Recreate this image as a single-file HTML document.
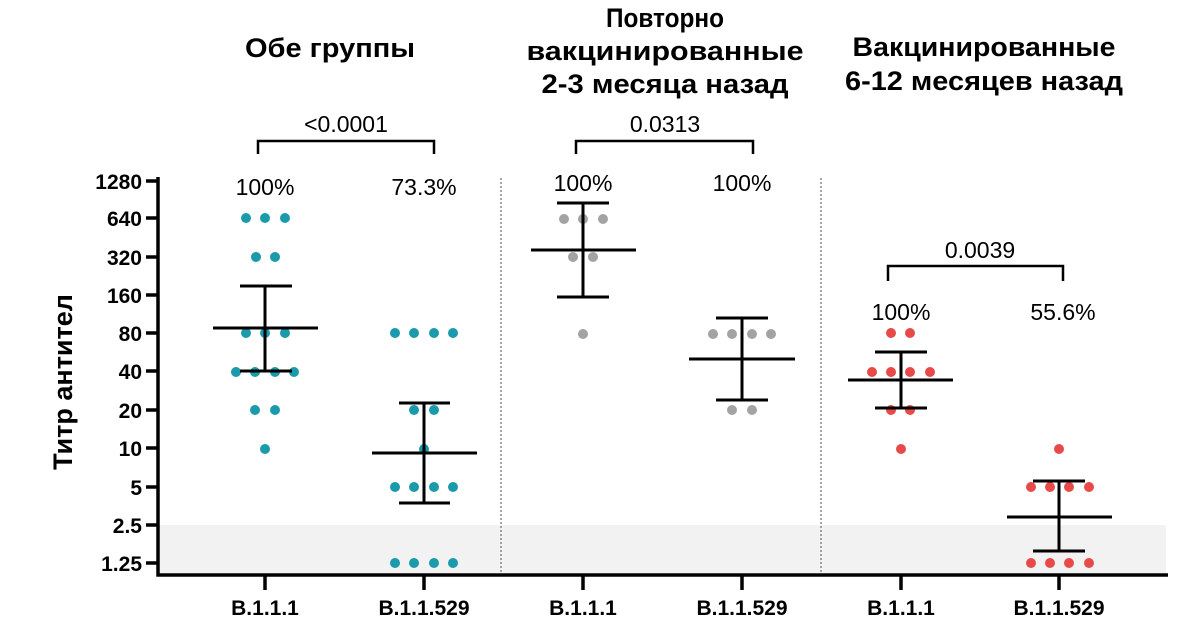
<!DOCTYPE html>
<html><head><meta charset="utf-8"><style>
html,body{margin:0;padding:0;background:#fff;}
svg{display:block;font-family:"Liberation Sans",Arial,sans-serif;}
.t{font-weight:bold;font-size:27px;text-anchor:middle;}
.p{font-size:23px;text-anchor:middle;}
.yl{font-weight:bold;font-size:21px;text-anchor:end;}
.xl{font-weight:bold;font-size:21px;text-anchor:middle;}
</style></head><body>
<svg width="1200" height="628" viewBox="0 0 1200 628">
<rect x="159" y="525" width="1007" height="48" fill="#f2f2f2"/>
<line x1="501" y1="178" x2="501" y2="573" stroke="#888" stroke-width="1.5" stroke-dasharray="2,2"/>
<line x1="821" y1="178" x2="821" y2="573" stroke="#888" stroke-width="1.5" stroke-dasharray="2,2"/>
<g stroke="#000" stroke-width="3.5" fill="none">
<polyline points="158,177 158,575 1168,575"/>
<line x1="146" y1="181" x2="158" y2="181"/><line x1="146" y1="218" x2="158" y2="218"/>
<line x1="146" y1="257" x2="158" y2="257"/><line x1="146" y1="295" x2="158" y2="295"/>
<line x1="146" y1="333" x2="158" y2="333"/><line x1="146" y1="371" x2="158" y2="371"/>
<line x1="146" y1="410" x2="158" y2="410"/><line x1="146" y1="448" x2="158" y2="448"/>
<line x1="146" y1="487" x2="158" y2="487"/><line x1="146" y1="525" x2="158" y2="525"/>
<line x1="146" y1="563" x2="158" y2="563"/>
<line x1="265" y1="575" x2="265" y2="590"/><line x1="424" y1="575" x2="424" y2="590"/>
<line x1="583" y1="575" x2="583" y2="590"/><line x1="742" y1="575" x2="742" y2="590"/>
<line x1="901" y1="575" x2="901" y2="590"/><line x1="1059" y1="575" x2="1059" y2="590"/>
</g>
<g class="yl">
<text x="142" y="189">1280</text><text x="142" y="226">640</text><text x="142" y="265">320</text>
<text x="142" y="303">160</text><text x="142" y="341">80</text><text x="142" y="379">40</text>
<text x="142" y="418">20</text><text x="142" y="456">10</text><text x="142" y="495">5</text>
<text x="142" y="533">2.5</text><text x="142" y="571">1.25</text>
</g>
<text transform="translate(72,382) rotate(-90)" style="font-weight:bold;font-size:27px;text-anchor:middle">Титр антител</text>
<g class="xl">
<text x="265" y="615">B.1.1.1</text><text x="424" y="615">B.1.1.529</text>
<text x="583" y="615">B.1.1.1</text><text x="742" y="615">B.1.1.529</text>
<text x="901" y="615">B.1.1.1</text><text x="1059" y="615">B.1.1.529</text>
</g>
<g class="t">
<text x="330" y="57" textLength="170" lengthAdjust="spacingAndGlyphs">Обе группы</text>
<text x="665" y="27" textLength="118" lengthAdjust="spacingAndGlyphs">Повторно</text>
<text x="665" y="60" textLength="277" lengthAdjust="spacingAndGlyphs">вакцинированные</text>
<text x="665" y="93" textLength="247" lengthAdjust="spacingAndGlyphs">2-3 месяца назад</text>
<text x="984" y="56" textLength="263" lengthAdjust="spacingAndGlyphs">Вакцинированные</text>
<text x="984" y="90" textLength="278" lengthAdjust="spacingAndGlyphs">6-12 месяцев назад</text>
</g>
<g class="p">
<text x="346" y="132">&lt;0.0001</text><text x="665" y="132">0.0313</text><text x="980" y="258">0.0039</text>
<text x="265" y="195">100%</text><text x="424" y="195">73.3%</text>
<text x="583" y="191">100%</text><text x="742" y="191">100%</text>
<text x="901" y="320">100%</text><text x="1063" y="320">55.6%</text>
</g>
<g stroke="#000" stroke-width="2.5" fill="none">
<polyline points="258,154 258,141 434,141 434,154"/>
<polyline points="576,154 576,141 753,141 753,154"/>
<polyline points="888,281 888,266 1063,266 1063,281"/>
</g>
<g fill="#1a9aab">
<circle cx="246" cy="218" r="5"/><circle cx="265" cy="218" r="5"/><circle cx="285" cy="218" r="5"/>
<circle cx="256" cy="257" r="5"/><circle cx="275" cy="257" r="5"/>
<circle cx="246" cy="333" r="5"/><circle cx="265" cy="333" r="5"/><circle cx="285" cy="333" r="5"/>
<circle cx="236" cy="372" r="5"/><circle cx="255" cy="372" r="5"/><circle cx="275" cy="372" r="5"/><circle cx="294" cy="372" r="5"/>
<circle cx="255" cy="410" r="5"/><circle cx="275" cy="410" r="5"/><circle cx="265" cy="449" r="5"/>
<circle cx="395" cy="333" r="5"/><circle cx="414" cy="333" r="5"/><circle cx="434" cy="333" r="5"/><circle cx="453" cy="333" r="5"/>
<circle cx="414" cy="410" r="5"/><circle cx="434" cy="410" r="5"/><circle cx="424" cy="449" r="5"/>
<circle cx="395" cy="487" r="5"/><circle cx="414" cy="487" r="5"/><circle cx="434" cy="487" r="5"/><circle cx="453" cy="487" r="5"/>
<circle cx="395" cy="563" r="5"/><circle cx="414" cy="563" r="5"/><circle cx="434" cy="563" r="5"/><circle cx="453" cy="563" r="5"/>
</g>
<g fill="#a3a3a3">
<circle cx="564" cy="219" r="5"/><circle cx="583" cy="219" r="5"/><circle cx="603" cy="219" r="5"/>
<circle cx="573" cy="257" r="5"/><circle cx="593" cy="257" r="5"/><circle cx="583" cy="334" r="5"/>
<circle cx="713" cy="334" r="5"/><circle cx="732" cy="334" r="5"/><circle cx="752" cy="334" r="5"/><circle cx="771" cy="334" r="5"/>
<circle cx="732" cy="410" r="5"/><circle cx="752" cy="410" r="5"/>
</g>
<g fill="#e84a4a">
<circle cx="891" cy="333" r="5"/><circle cx="910" cy="333" r="5"/>
<circle cx="872" cy="372" r="5"/><circle cx="891" cy="372" r="5"/><circle cx="910" cy="372" r="5"/><circle cx="930" cy="372" r="5"/>
<circle cx="891" cy="410" r="5"/><circle cx="910" cy="410" r="5"/><circle cx="901" cy="449" r="5"/>
<circle cx="1059" cy="449" r="5"/>
<circle cx="1031" cy="487" r="5"/><circle cx="1050" cy="487" r="5"/><circle cx="1069" cy="487" r="5"/><circle cx="1089" cy="487" r="5"/>
<circle cx="1031" cy="563" r="5"/><circle cx="1050" cy="563" r="5"/><circle cx="1069" cy="563" r="5"/><circle cx="1089" cy="563" r="5"/>
</g>
<g stroke="#000" stroke-width="3" fill="none">
<line x1="265" y1="286" x2="265" y2="371"/><line x1="240" y1="286" x2="292" y2="286"/><line x1="240" y1="371" x2="292" y2="371"/><line x1="213" y1="328" x2="318" y2="328"/>
<line x1="424" y1="403" x2="424" y2="503"/><line x1="399" y1="403" x2="450" y2="403"/><line x1="399" y1="503" x2="450" y2="503"/><line x1="372" y1="453" x2="477" y2="453"/>
<line x1="583" y1="203" x2="583" y2="297"/><line x1="557" y1="203" x2="609" y2="203"/><line x1="557" y1="297" x2="609" y2="297"/><line x1="531" y1="250" x2="636" y2="250"/>
<line x1="742" y1="318" x2="742" y2="400"/><line x1="716" y1="318" x2="768" y2="318"/><line x1="716" y1="400" x2="768" y2="400"/><line x1="689" y1="359" x2="795" y2="359"/>
<line x1="901" y1="352" x2="901" y2="408"/><line x1="875" y1="352" x2="927" y2="352"/><line x1="875" y1="408" x2="927" y2="408"/><line x1="848" y1="380" x2="953" y2="380"/>
<line x1="1059" y1="481" x2="1059" y2="551"/><line x1="1033" y1="481" x2="1085" y2="481"/><line x1="1033" y1="551" x2="1085" y2="551"/><line x1="1007" y1="517" x2="1112" y2="517"/>
</g>
</svg>
</body></html>
